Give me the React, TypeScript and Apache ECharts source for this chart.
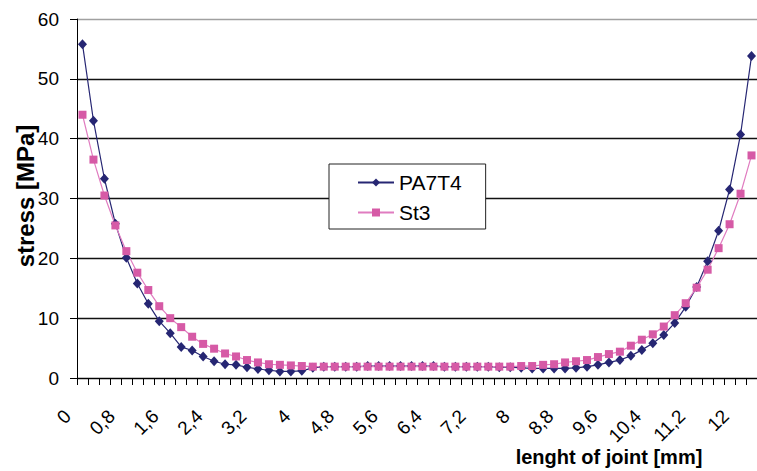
import React, { useEffect, useRef } from "react";
import * as echarts from "echarts";

const categories = [
  "0", "0,2", "0,4", "0,6", "0,8", "1", "1,2", "1,4", "1,6", "1,8",
  "2", "2,2", "2,4", "2,6", "2,8", "3", "3,2", "3,4", "3,6", "3,8",
  "4", "4,2", "4,4", "4,6", "4,8", "5", "5,2", "5,4", "5,6", "5,8",
  "6", "6,2", "6,4", "6,6", "6,8", "7", "7,2", "7,4", "7,6", "7,8",
  "8", "8,2", "8,4", "8,6", "8,8", "9", "9,2", "9,4", "9,6", "9,8",
  "10", "10,2", "10,4", "10,6", "10,8", "11", "11,2", "11,4", "11,6", "11,8",
  "12", "12,2",
];

const pa7t4 = [
  55.8, 43.0, 33.3, 25.8, 20.1, 15.8, 12.4, 9.5, 7.5, 5.2,
  4.6, 3.6, 2.8, 2.3, 2.2, 1.8, 1.5, 1.3, 1.1, 1.1,
  1.2, 1.7, 1.9, 1.9, 1.9, 1.9, 2.0, 2.0, 2.0, 2.0,
  2.0, 2.0, 2.0, 1.9, 1.9, 1.9, 1.9, 1.9, 1.8, 1.8,
  1.7, 1.6, 1.6, 1.6, 1.6, 1.7, 1.9, 2.2, 2.6, 3.0,
  3.7, 4.7, 5.8, 7.2, 9.2, 11.9, 15.2, 19.5, 24.6, 31.5,
  40.7, 53.8,
];

const st3 = [
  44.0, 36.5, 30.5, 25.5, 21.2, 17.6, 14.7, 12.0, 10.0, 8.5,
  6.9, 5.7, 4.9, 4.1, 3.6, 3.0, 2.6, 2.3, 2.2, 2.1,
  2.0, 1.9, 1.9, 1.9, 1.9, 1.9, 1.9, 1.9, 1.9, 1.9,
  1.9, 1.9, 1.9, 1.9, 1.9, 1.9, 1.9, 1.9, 1.9, 1.9,
  2.0, 2.0, 2.2, 2.3, 2.6, 2.8, 3.0, 3.5, 4.0, 4.4,
  5.4, 6.4, 7.3, 8.6, 10.5, 12.5, 15.1, 18.1, 21.7, 25.7,
  30.8, 37.2,
];

const seriesNames = ["PA7T4", "St3"];
const xTitle = "lenght of joint [mm]";
const yTitle = "stress [MPa]";

const FONT = '"Liberation Sans", Arial, sans-serif';

export default function App() {
  const ref = useRef<HTMLDivElement>(null);
  useEffect(() => {
    if (!ref.current) return;
    const chart = echarts.init(ref.current, null, { renderer: "svg" });
    chart.setOption({
      animation: false,
      backgroundColor: "#fff",
      textStyle: { fontFamily: FONT },
      grid: { left: 77, top: 19, width: 686, height: 359, containLabel: false },
      xAxis: {
        type: "category",
        data: categories,
        boundaryGap: true,
        axisLine: { show: true, lineStyle: { color: "#000", width: 1 } },
        axisTick: { show: true, interval: 0, length: 7, lineStyle: { color: "#000" } },
        axisLabel: {
          interval: 3,
          rotate: 45,
          margin: 20,
          padding: [0, 21, 0, 0],
          fontSize: 19,
          color: "#000",
          fontFamily: FONT,
        },
        splitLine: { show: false },
      },
      yAxis: {
        type: "value",
        min: 0,
        max: 60,
        interval: 10,
        axisLine: { show: true, lineStyle: { color: "#000", width: 1 } },
        axisTick: { show: true, length: 7, lineStyle: { color: "#000" } },
        axisLabel: { margin: 18, fontSize: 19, color: "#000", fontFamily: FONT },
        splitLine: {
          show: true,
          lineStyle: {
            color: ["#111", "#111", "#111", "#111", "#111", "#111", "#a0a0a0"],
            width: 1.4,
          },
        },
      },
      legend: {
        orient: "vertical",
        left: 329,
        top: 164,
        padding: [8, 24, 6, 28],
        itemWidth: 36,
        itemHeight: 10,
        itemGap: 9,
        backgroundColor: "#fff",
        borderColor: "#222",
        borderWidth: 1,
        textStyle: { fontSize: 21, color: "#000", lineHeight: 21, fontFamily: FONT },
        data: seriesNames,
      },
      graphic: [
        {
          type: "text",
          x: 609,
          y: 457,
          style: {
            text: xTitle,
            align: "center",
            verticalAlign: "middle",
            fontSize: 20,
            fontWeight: "bold",
            fontFamily: FONT,
            fill: "#000",
          },
        },
        {
          type: "text",
          x: 25,
          y: 196,
          rotation: Math.PI / 2,
          style: {
            text: yTitle,
            align: "center",
            verticalAlign: "middle",
            fontSize: 24,
            fontWeight: "bold",
            fontFamily: FONT,
            fill: "#000",
          },
        },
      ],
      series: [
        {
          name: seriesNames[0],
          type: "line",
          data: pa7t4,
          symbol: "diamond",
          symbolSize: [9, 10],
          showAllSymbol: true,
          lineStyle: { color: "#262673", width: 1.2 },
          itemStyle: { color: "#262673" },
        },
        {
          name: seriesNames[1],
          type: "line",
          data: st3,
          symbol: "rect",
          symbolSize: 8,
          showAllSymbol: true,
          lineStyle: { color: "#e07cc0", width: 1.2 },
          itemStyle: { color: "#d65aa6" },
        },
      ],
    });
    return () => chart.dispose();
  }, []);
  return (
    <div
      ref={ref}
      style={{
        position: "absolute",
        left: 0,
        top: 0,
        width: 757,
        height: 471,
        overflow: "hidden",
        background: "#fff",
      }}
    />
  );
}
